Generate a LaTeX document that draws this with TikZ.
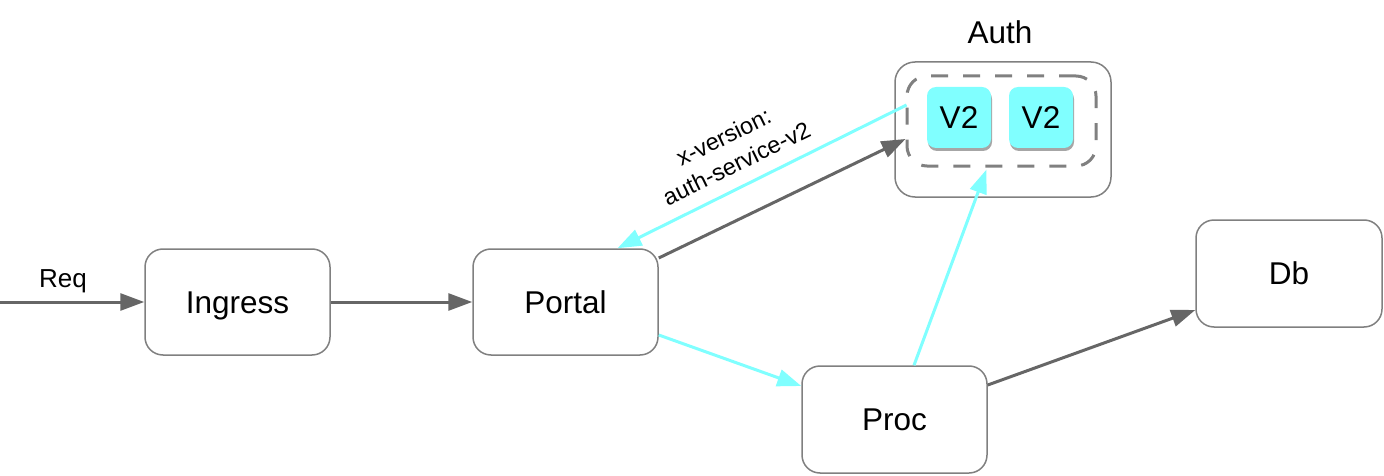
\documentclass[tikz,border=0pt]{standalone}
\usepackage{fontspec}
\setmainfont{Liberation Sans}
\usetikzlibrary{arrows.meta,calc,shadows}
\definecolor{edgegray}{HTML}{666666}
\definecolor{boxgray}{HTML}{808080}
\definecolor{cyanline}{HTML}{80FFFF}
\tikzset{
  box/.style={draw=boxgray, line width=1.5pt, rounded corners=18pt, fill=white,
    font=\fontsize{31.5}{36}\selectfont, inner sep=0pt, text height=22pt, text depth=0pt},
  vbox/.style={fill=cyanline, rounded corners=9pt, minimum width=64pt, minimum height=61pt,
    font=\fontsize{31.5}{36}\selectfont, inner sep=0pt, text height=22pt, text depth=0pt,
    drop shadow={shadow xshift=1pt, shadow yshift=-3pt, opacity=0.35, fill=black}},
  grayarrow/.style={draw=edgegray, line width=3pt, -{Triangle[length=24pt,width=17pt]}},
  cyanarrow/.style={draw=cyanline, line width=3pt, -{Triangle[length=24pt,width=17pt]}},
}
\begin{document}
\begin{tikzpicture}[x=1pt,y=-1pt]
\useasboundingbox (0,0) rectangle (1384,476);
% boxes
\node[box, minimum width=185pt, minimum height=106pt] (ingress) at (237.5,302) {Ingress};
\node[box, minimum width=185pt, minimum height=106pt] (portal) at (565.5,302) {Portal};
\node[box, minimum width=185pt, minimum height=107pt] (proc) at (894.5,419.5) {Proc};
\node[box, minimum width=186pt, minimum height=107pt] (db) at (1289,273.5) {Db};
\node[box, minimum width=216pt, minimum height=135pt, rounded corners=20pt] (auth) at (1003,129.5) {};
\node[draw=boxgray, line width=3pt, dash pattern=on 17pt off 15pt, rounded corners=20pt,
  minimum width=189pt, minimum height=90pt, inner sep=0pt] (inner) at (1001.5,121) {};
\node[vbox] (v2a) at (959,117.5) {V2};
\node[vbox] (v2b) at (1041,117.5) {V2};
\node[font=\fontsize{31.5}{36}\selectfont] (authlabel) at (1000,32) {Auth};
% connectors
\coordinate (req) at (0,302);
\draw[grayarrow] (req) -- (ingress.west);
\node[font=\fontsize{26}{30}\selectfont] (reqlabel) at (63,281) {Req};
\draw[grayarrow] (ingress.east) -- (portal.west);
\draw[grayarrow] ($(portal.east)+(0,-44)$) -- ($(inner.west)+(0,18)$);
\draw[cyanarrow] ($(inner.west)+(1,-16)$) -- ($(portal.north)+(52,0)$);
\node[font=\fontsize{23.5}{29.5}\selectfont, align=center, rotate=26] (xlabel) at (730,150)
  {x-version:\\auth-service-v2};
\draw[cyanarrow] ($(portal.east)+(0,33)$) -- ($(proc.west)+(0,-33.5)$);
\draw[cyanarrow] ($(proc.north)+(19.5,0)$) -- ($(inner.south)+(-15,2)$);
\draw[grayarrow] ($(proc.east)+(0,-34.5)$) -- ($(db.west)+(0,36.5)$);
\end{tikzpicture}
\end{document}
